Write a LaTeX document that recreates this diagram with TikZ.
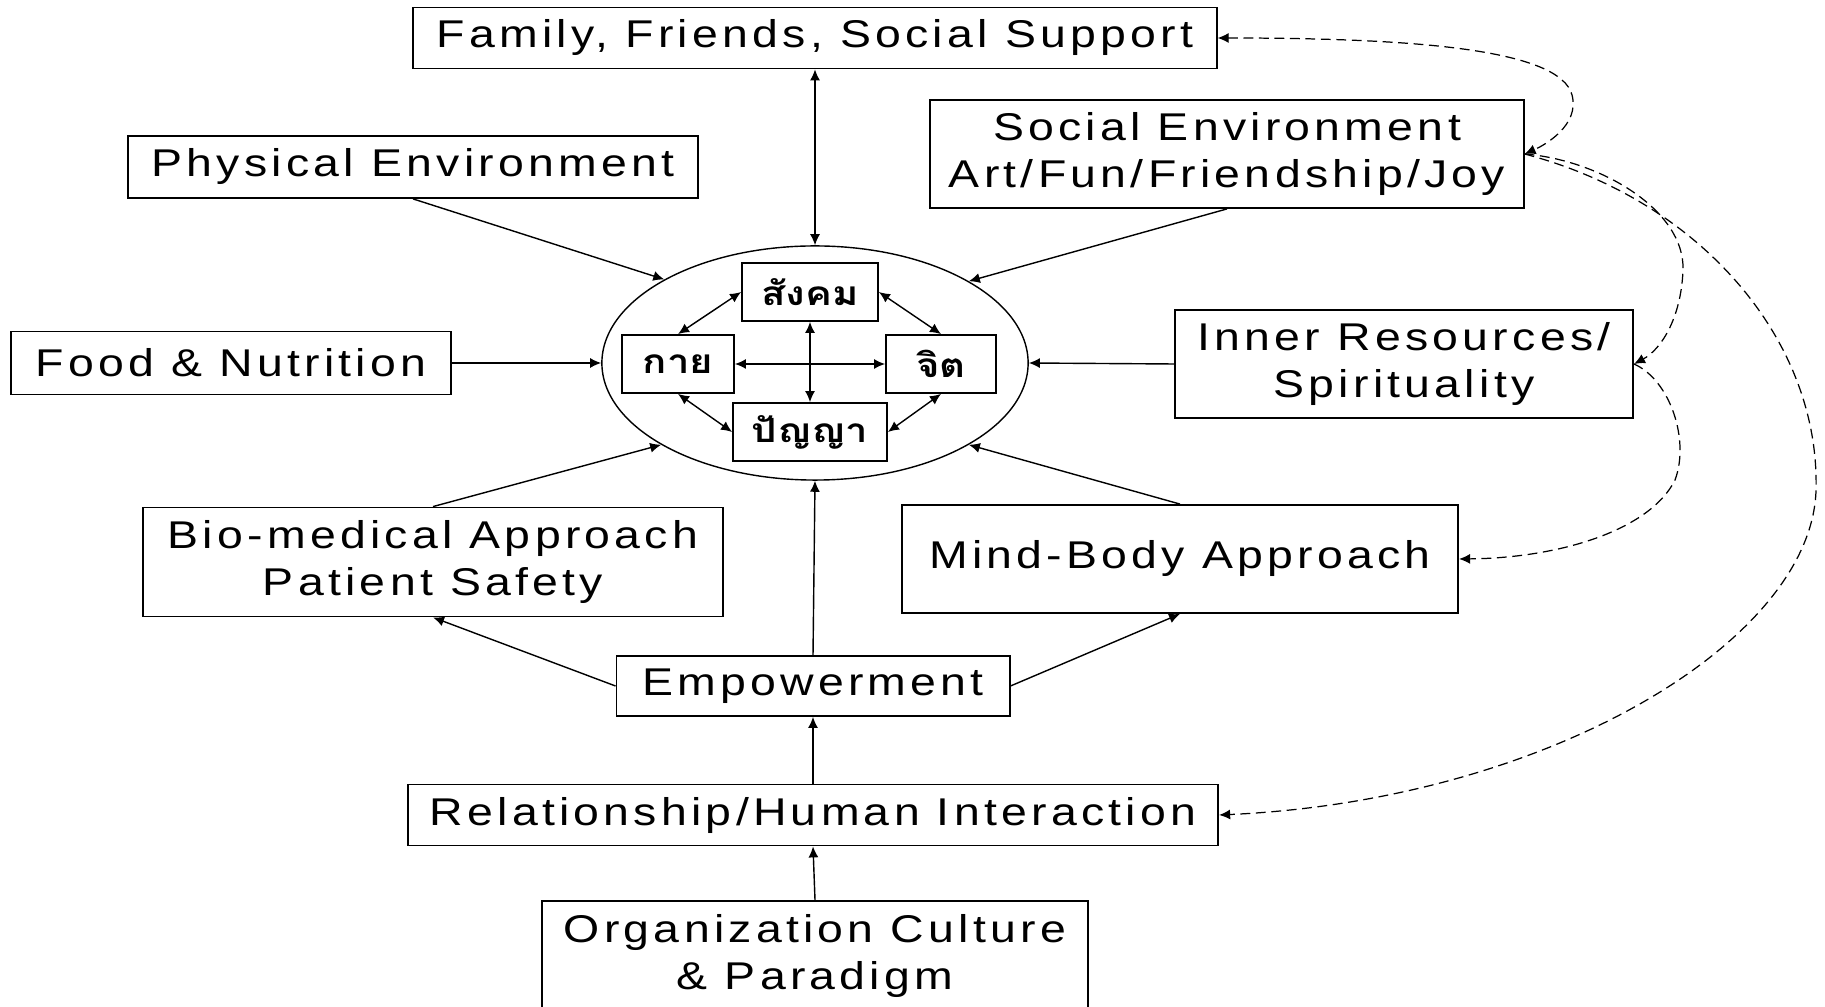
\documentclass[tikz,border=0pt]{standalone}
\usepackage{fontspec}
\setmainfont{Liberation Sans}[FakeStretch=1.2, LetterSpace=11]
\newfontfamily\thaifont[Script=Thai, FakeStretch=1.2]{Loma}
\usetikzlibrary{arrows.meta,shapes.geometric}

\tikzset{
  box/.style={draw, line width=0.5pt, inner sep=0pt, align=center,
    font=\fontsize{11pt}{13.6pt}\selectfont},
  inbox/.style={draw, line width=0.5pt, inner sep=0pt, minimum height=0.58cm,
    font=\thaifont\bfseries\fontsize{9.5pt}{11pt}\selectfont},
  link/.style={->, line width=0.4pt},
  dlink/.style={<->, line width=0.4pt},
  dashlink/.style={->, line width=0.35pt, dash pattern=on 2.8pt off 1.6pt},
}

\begin{document}
\begin{tikzpicture}[x=0.01cm, y=-0.01cm, >={Latex[length=1.1mm,width=1mm]}]
            \useasboundingbox (0,0) rectangle (1825,1007);

            % Outer factors
            \node[box, minimum width=8.03cm, minimum height=0.61cm] (fam) at (815,38) {Family, Friends, Social Support};
            \node[box, minimum width=5.70cm, minimum height=0.62cm] (phys) at (413,167) {Physical Environment};
            \node[box, minimum width=5.93cm, minimum height=1.08cm] (soc) at (1227,154) {Social Environment\\Art/Fun/Friendship/Joy};
            \node[box, minimum width=4.39cm, minimum height=0.63cm] (food) at (231,363) {Food \& Nutrition};
            \node[box, minimum width=4.58cm, minimum height=1.08cm] (inner) at (1404,364) {Inner Resources/\\Spirituality};
            \node[box, minimum width=5.79cm, minimum height=1.09cm] (bio) at (433,562) {Bio-medical Approach\\Patient Safety};
            \node[box, minimum width=5.56cm, minimum height=1.08cm] (mb) at (1180,559) {Mind-Body Approach};
            \node[box, minimum width=3.93cm, minimum height=0.60cm] (emp) at (813,686) {Empowerment};
            \node[box, minimum width=8.10cm, minimum height=0.61cm] (rel) at (813,815) {Relationship/Human Interaction};
            \node[box, minimum width=5.45cm, minimum height=1.10cm] (org) at (815,956) {Organization Culture\\\& Paradigm};

            % Core ellipse
            \node[draw, ellipse, line width=0.4pt, minimum width=4.26cm, minimum height=2.34cm] (core) at (815,363) {};
            \node[inbox, minimum width=1.36cm] (sangkhom) at (810,292) {สังคม};
            \node[inbox, minimum width=1.12cm] (kay) at (678,364) {กาย};
            \node[inbox, minimum width=1.10cm] (jit) at (941,364) {จิต};
            \node[inbox, minimum width=1.54cm] (panya) at (810,432) {ปัญญา};

            % Inner arrows
            \draw[dlink] (sangkhom.west) -- (kay.north);
            \draw[dlink] (sangkhom.east) -- (jit.north);
            \draw[dlink] (kay.south) -- (panya.west);
            \draw[dlink] (jit.south) -- (panya.east);
            \draw[dlink] (sangkhom.south) -- (panya.north);
            \draw[dlink] (kay.east) -- (jit.west);

            % Arrows into the core
            \draw[dlink] (fam.south) -- (core.north);
            \draw[link] (phys.south) -- (core.151);
            \draw[link] (soc.south) -- (core.28);
            \draw[link] (food.east) -- (core.west);
            \draw[link] (inner.west) -- (core.east);
            \draw[link] (bio.north) -- (core.208);
            \draw[link] (mb.north) -- (core.332);
            \draw[link] (emp.north) -- (core.south);

            % Bottom chain
            \draw[link] (emp.west) -- (bio.south);
            \draw[link] (emp.east) -- (mb.south);
            \draw[link] (rel.north) -- (emp.south);
            \draw[link] (org.north) -- (rel.south);

            % Dashed links
            \draw[dashlink, <->] (fam.east) .. controls (1420,38) and (1560,50) .. (1572,95)
                .. controls (1580,125) and (1545,145) .. (soc.east);
            \draw[dashlink] (soc.east) .. controls (1600,160) and (1685,210) .. (1683,270)
                .. controls (1681,320) and (1660,350) .. (inner.east);
            \draw[dashlink] (soc.east) .. controls (1700,200) and (1820,340) .. (1816,490)
                .. controls (1812,640) and (1550,800) .. (rel.east);
            \draw[dashlink] (inner.east) .. controls (1670,380) and (1690,440) .. (1675,480)
                .. controls (1650,530) and (1560,558) .. (mb.east);
        \end{tikzpicture}
\end{document}
